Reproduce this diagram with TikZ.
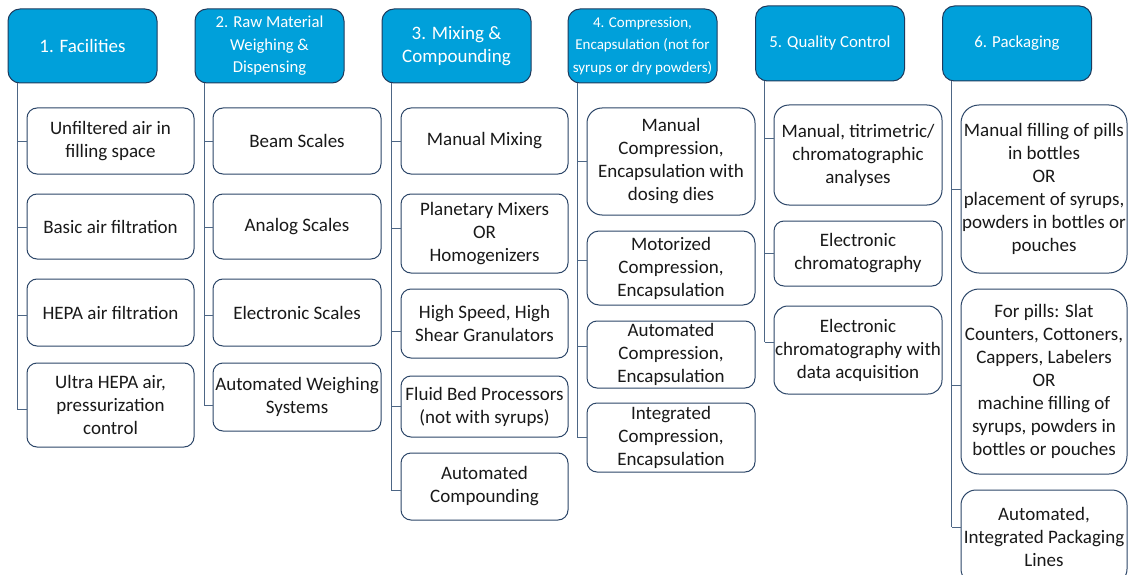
\documentclass[tikz,border=0pt]{standalone}
\usepackage{fontspec}
\setmainfont{Carlito}
\definecolor{headfill}{HTML}{00A0DA}
\definecolor{headline}{HTML}{1F3A5C}
\definecolor{boxline}{HTML}{2C4668}
\definecolor{wire}{HTML}{4D6685}
\tikzset{
  head/.style={draw=headline, fill=headfill, line width=1pt, rounded corners=12pt,
    minimum width=149pt, inner sep=0pt, align=center, text=white,
    font=\fontsize{19}{23}\selectfont},
  leafbox/.style={draw=boxline, fill=white, line width=1pt, rounded corners=10pt,
    inner sep=0pt, align=center, text=black!90, font=\fontsize{19}{23}\selectfont},
  conn/.style={draw=wire, line width=1pt},
}
\begin{document}
\begin{tikzpicture}[x=1pt, y=-1pt]
\fill[white] (0,0) rectangle (1129,575);
\useasboundingbox (0,0) rectangle (1129,575);

% ---------- stage headers ----------
\node[head, minimum height=74pt] (h1) at (82.5,46) {1. Facilities};
\node[head, minimum height=74pt, font=\fontsize{16.7}{22.5}\selectfont] (h2) at (269.5,46)
  {2. Raw Material\\Weighing \&\\Dispensing};
\node[head, minimum height=74pt] (h3) at (456.5,46) {3. Mixing \&\\Compounding};
\node[head, minimum height=74pt, font=\fontsize{15}{22.5}\selectfont] (h4) at (642.5,46)
  {4. Compression,\\Encapsulation (not for\\syrups or dry powders)};
\node[head, minimum height=75pt, font=\fontsize{16.8}{22.5}\selectfont] (h5) at (830,43.5) {5. Quality Control};
\node[head, minimum height=75pt, font=\fontsize{16.8}{22.5}\selectfont] (h6) at (1017,43.5) {6. Packaging};

% ---------- 1. Facilities ----------
\node[leafbox, minimum width=167pt, minimum height=66pt] (c11) at (110.5,141) {Unfiltered air in\\filling space};
\node[leafbox, minimum width=167pt, minimum height=65pt] (c12) at (110.5,226.5) {Basic air filtration};
\node[leafbox, minimum width=167pt, minimum height=67pt] (c13) at (110.5,312.5) {HEPA air filtration};
\node[leafbox, minimum width=167pt, minimum height=84pt] (c14) at (110.5,405) {Ultra HEPA air,\\pressurization\\control};

% ---------- 2. Weighing & dispensing ----------
\node[leafbox, minimum width=168pt, minimum height=66pt] (c21) at (297,141) {Beam Scales};
\node[leafbox, minimum width=168pt, minimum height=65pt] (c22) at (297,226.5) {Analog Scales};
\node[leafbox, minimum width=168pt, minimum height=67pt] (c23) at (297,312.5) {Electronic Scales};
\node[leafbox, minimum width=168pt, minimum height=68pt] (c24) at (297,397) {Automated Weighing\\Systems};

% ---------- 3. Mixing & compounding ----------
\node[leafbox, minimum width=167pt, minimum height=66pt] (c31) at (484.5,141) {Manual Mixing};
\node[leafbox, minimum width=167pt, minimum height=79pt] (c32) at (484.5,233.5) {Planetary Mixers\\OR\\Homogenizers};
\node[leafbox, minimum width=167pt, minimum height=69pt] (c33) at (484.5,323.5) {High Speed, High\\Shear Granulators};
\node[leafbox, minimum width=167pt, minimum height=61pt] (c34) at (484.5,406.5) {Fluid Bed Processors\\(not with syrups)};
\node[leafbox, minimum width=167pt, minimum height=67pt] (c35) at (484.5,486.5) {Automated\\Compounding};

% ---------- 4. Compression, encapsulation ----------
\node[leafbox, minimum width=168pt, minimum height=107pt, rounded corners=15pt] (c41) at (671,161.5)
  {Manual\\Compression,\\Encapsulation with\\dosing dies};
\node[leafbox, minimum width=168pt, minimum height=74pt, rounded corners=12pt] (c42) at (671,268)
  {Motorized\\Compression,\\Encapsulation};
\node[leafbox, minimum width=168pt, minimum height=67pt] (c43) at (671,354.5)
  {Automated\\Compression,\\Encapsulation};
\node[leafbox, minimum width=168pt, minimum height=69pt] (c44) at (671,437.5)
  {Integrated\\Compression,\\Encapsulation};

% ---------- 5. Quality control ----------
\node[leafbox, minimum width=168pt, minimum height=100pt, rounded corners=15pt] (c51) at (858,155)
  {Manual, titrimetric/\\chromatographic\\analyses};
\node[leafbox, minimum width=168pt, minimum height=65pt] (c52) at (858,253.5)
  {Electronic\\chromatography};
\node[leafbox, minimum width=168pt, minimum height=88pt, rounded corners=14pt] (c53) at (858,350)
  {Electronic\\chromatography with\\data acquisition};

% ---------- 6. Packaging ----------
\node[leafbox, minimum width=166pt, minimum height=168pt, rounded corners=18pt] (c61) at (1044,189)
  {Manual filling of pills\\in bottles\\OR\\placement of syrups,\\powders in bottles or\\pouches};
\node[leafbox, minimum width=166pt, minimum height=185pt, rounded corners=18pt] (c62) at (1044,381.5)
  {For pills: Slat\\Counters, Cottoners,\\Cappers, Labelers\\OR\\machine filling of\\syrups, powders in\\bottles or pouches};
\node[leafbox, minimum width=166pt, minimum height=94pt, rounded corners=15pt] (c63) at (1044,537)
  {Automated,\\Integrated Packaging\\Lines};

% ---------- connectors: spine from each header, one branch per item ----------
\foreach \h in {h1,h2,h3,h4,h5,h6}
  \coordinate (v\h) at ([xshift=9.5pt]\h.south west);
\foreach \n/\d in {c11/0,c12/-1,c13/-3,c14/-4,
                   c21/0,c22/-1,c23/-3,c24/-8,
                   c31/0,c32/5.5,c33/-7.5,c34/0,c35/-3.5,
                   c41/0,c42/8,c43/8,c44/0,
                   c51/17,c52/0,c53/8,
                   c61/0,c62/-3.5,c63/10}
  \coordinate (t\n) at ([yshift=\d pt]\n.west);

\draw[conn] (vh1) -- (vh1 |- tc14);
\draw[conn] (vh2) -- (vh2 |- tc24);
\draw[conn] (vh3) -- (vh3 |- tc35);
\draw[conn] (vh4) -- (vh4 |- tc44);
\draw[conn] (vh5) -- (vh5 |- tc53);
\draw[conn] (vh6) -- (vh6 |- tc63);

\foreach \n in {c11,c12,c13,c14} \draw[conn] (vh1 |- t\n) -- (t\n);
\foreach \n in {c21,c22,c23,c24} \draw[conn] (vh2 |- t\n) -- (t\n);
\foreach \n in {c31,c32,c33,c34,c35} \draw[conn] (vh3 |- t\n) -- (t\n);
\foreach \n in {c41,c42,c43,c44} \draw[conn] (vh4 |- t\n) -- (t\n);
\foreach \n in {c51,c52,c53} \draw[conn] (vh5 |- t\n) -- (t\n);
\foreach \n in {c61,c62,c63} \draw[conn] (vh6 |- t\n) -- (t\n);
\end{tikzpicture}
\end{document}
